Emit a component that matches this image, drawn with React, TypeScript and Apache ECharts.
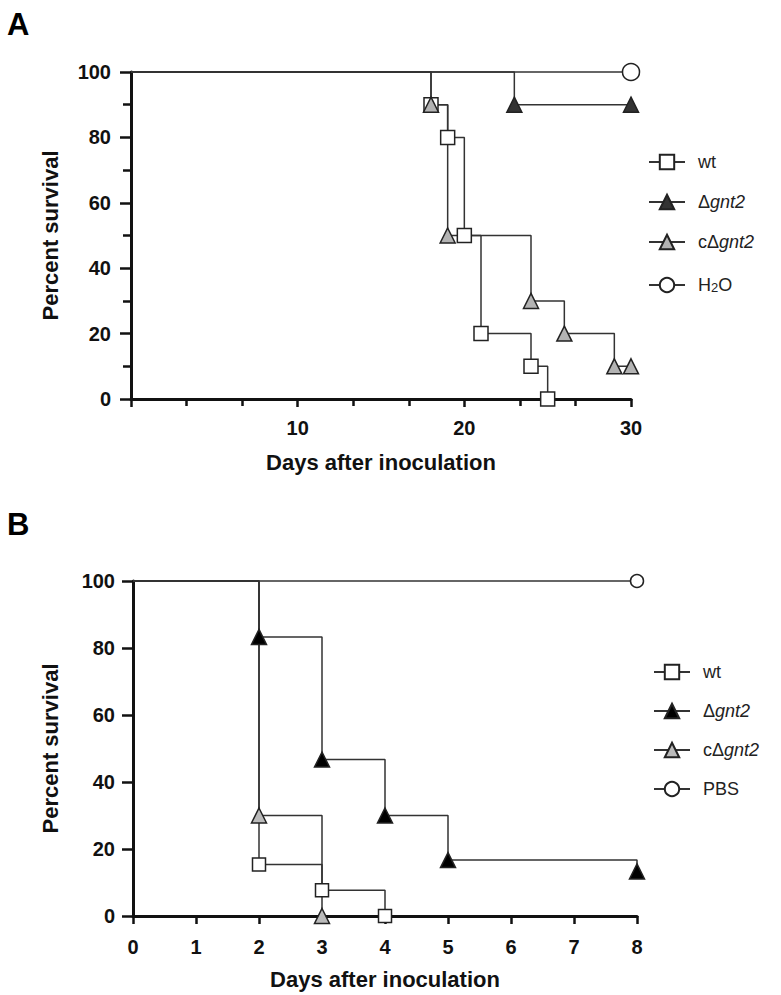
import React, { useEffect, useRef } from "react";
import * as echarts from "echarts";

// ---------- Panel A data ----------
const aWtDays = [0, 18, 19, 20, 21, 24, 25];
const aWtSurv = [100, 90, 80, 50, 20, 10, 0];
const aDgDays = [0, 23, 30];
const aDgSurv = [100, 90, 90];
const aCdDays = [0, 18, 19, 24, 26, 29, 30];
const aCdSurv = [100, 90, 50, 30, 20, 10, 10];
const aH2oDays = [0, 30];
const aH2oSurv = [100, 100];
const aXTicks = [10, 20, 30];
const yTicks = [0, 20, 40, 60, 80, 100];

// ---------- Panel B data ----------
const bWtDays = [0, 2, 3, 4];
const bWtSurv = [100, 15.4, 7.7, 0];
const bDgDays = [0, 2, 3, 4, 5, 8];
const bDgSurv = [100, 83.3, 46.7, 30, 16.7, 13.3];
const bCdDays = [0, 2, 3];
const bCdSurv = [100, 30, 0];
const bPbsDays = [0, 8];
const bPbsSurv = [100, 100];
const bXTicks = [0, 1, 2, 3, 4, 5, 6, 7, 8];

const legendA = ["wt", "Δgnt2", "cΔgnt2", "H2O"];
const legendB = ["wt", "Δgnt2", "cΔgnt2", "PBS"];

const FONT = "'Liberation Sans', Arial, Helvetica, sans-serif";
const LINE = "#333";

function stepData(days: number[], surv: number[]) {
  return days.map((d, i) =>
    i === 0 ? { value: [d, surv[i]], symbol: "none" } : { value: [d, surv[i]] }
  );
}

function mkSeries(
  name: string,
  days: number[],
  surv: number[],
  symbol: string,
  size: number,
  fill: string
) {
  return {
    type: "line",
    name,
    step: "end",
    data: stepData(days, surv),
    symbol,
    symbolSize: size,
    showSymbol: true,
    clip: false,
    lineStyle: { color: LINE, width: 1.5 },
    itemStyle: { color: fill, borderColor: "#222", borderWidth: 1.5, opacity: 1 },
    emphasis: { disabled: true },
  };
}

function legendFormatter(name: string) {
  if (name === "Δgnt2") return "Δ{i|gnt2}";
  if (name === "cΔgnt2") return "cΔ{i|gnt2}";
  if (name === "H2O") return "H{sub|2}O";
  return name;
}

function legendCfg(names: string[], left: number, top: number, gap: number) {
  return {
    orient: "vertical",
    left,
    top,
    data: names,
    itemWidth: 36,
    itemHeight: 18,
    itemGap: gap,
    selectedMode: false,
    formatter: legendFormatter,
    textStyle: {
      fontFamily: FONT,
      fontSize: 18,
      color: "#222",
      lineHeight: 18,
      padding: [0, 0, 0, 8],
      rich: {
        i: { fontFamily: FONT, fontSize: 18, fontStyle: "italic", color: "#222", lineHeight: 18 },
        sub: {
          fontFamily: FONT,
          fontSize: 13,
          color: "#222",
          lineHeight: 18,
          verticalAlign: "bottom",
          padding: [8, 0, 0, 0],
        },
      },
    },
  };
}

const axisLine = { show: true, onZero: false, lineStyle: { color: "#111", width: 3 } };
const labelStyle = { fontFamily: FONT, fontWeight: "bold", fontSize: 20, color: "#111" };
const nameStyle = { fontFamily: FONT, fontWeight: "bold", fontSize: 22, color: "#111" };

function optionA() {
  return {
    animation: false,
    backgroundColor: "#fff",
    grid: { left: 131, top: 72, right: 150, bottom: 98 },
    graphic: [
      {
        type: "text",
        left: 7,
        top: 9,
        style: { text: "A", fontFamily: FONT, fontWeight: "bold", fontSize: 31, fill: "#000" },
      },
    ],
    legend: legendCfg(legendA, 643, 148, 22),
    xAxis: {
      type: "value",
      min: 0,
      max: 30,
      interval: 10,
      axisLine,
      axisTick: { show: true, length: 8, lineStyle: { color: "#111", width: 2.5 } },
      minorTick: { show: true, splitNumber: 3, length: 7, lineStyle: { color: "#111", width: 2.5 } },
      splitLine: { show: false },
      axisLabel: {
        ...labelStyle,
        margin: 19,
        formatter: (v: number) => (aXTicks.includes(v) ? String(v) : ""),
      },
      name: "Days after inoculation",
      nameLocation: "middle",
      nameGap: 52,
      nameTextStyle: nameStyle,
    },
    yAxis: {
      type: "value",
      min: 0,
      max: 100,
      interval: 20,
      axisLine,
      axisTick: { show: true, length: 11, lineStyle: { color: "#111", width: 2.5 } },
      minorTick: { show: true, splitNumber: 2, length: 8, lineStyle: { color: "#111", width: 2.5 } },
      splitLine: { show: false },
      axisLabel: {
        ...labelStyle,
        margin: 20,
        formatter: (v: number) => (yTicks.includes(v) ? String(v) : ""),
      },
      name: "Percent survival",
      nameLocation: "middle",
      nameGap: 70,
      nameTextStyle: nameStyle,
    },
    series: [
      mkSeries("wt", aWtDays, aWtSurv, "rect", 14, "#fff"),
      mkSeries("Δgnt2", aDgDays, aDgSurv, "triangle", 15, "#333"),
      mkSeries("cΔgnt2", aCdDays, aCdSurv, "triangle", 15, "#b3b3b3"),
      mkSeries("H2O", aH2oDays, aH2oSurv, "circle", 17, "#fff"),
    ],
  };
}

function optionB() {
  return {
    animation: false,
    backgroundColor: "#fff",
    grid: { left: 133, top: 84, right: 144, bottom: 79 },
    graphic: [
      {
        type: "text",
        left: 7,
        top: 12,
        style: { text: "B", fontFamily: FONT, fontWeight: "bold", fontSize: 31, fill: "#000" },
      },
    ],
    legend: legendCfg(legendB, 648, 161, 21),
    xAxis: {
      type: "value",
      min: 0,
      max: 8,
      interval: 1,
      axisLine,
      axisTick: { show: true, length: 8, lineStyle: { color: "#111", width: 2.5 } },
      splitLine: { show: false },
      axisLabel: {
        ...labelStyle,
        margin: 21,
        formatter: (v: number) => (bXTicks.includes(v) ? String(v) : ""),
      },
      name: "Days after inoculation",
      nameLocation: "middle",
      nameGap: 52,
      nameTextStyle: nameStyle,
    },
    yAxis: {
      type: "value",
      min: 0,
      max: 100,
      interval: 20,
      axisLine,
      axisTick: { show: true, length: 11, lineStyle: { color: "#111", width: 2.5 } },
      splitLine: { show: false },
      axisLabel: {
        ...labelStyle,
        margin: 18,
        formatter: (v: number) => (yTicks.includes(v) ? String(v) : ""),
      },
      name: "Percent survival",
      nameLocation: "middle",
      nameGap: 72,
      nameTextStyle: nameStyle,
    },
    series: [
      mkSeries("wt", bWtDays, bWtSurv, "rect", 13, "#fff"),
      mkSeries("Δgnt2", bDgDays, bDgSurv, "triangle", 15, "#000"),
      mkSeries("cΔgnt2", bCdDays, bCdSurv, "triangle", 15, "#bbbbbb"),
      mkSeries("PBS", bPbsDays, bPbsSurv, "circle", 13, "#fff"),
    ],
  };
}

function Chart({ option, height }: { option: any; height: number }) {
  const ref = useRef<HTMLDivElement>(null);
  useEffect(() => {
    if (!ref.current) return;
    const chart = echarts.init(ref.current, undefined, { renderer: "svg" });
    chart.setOption(option);
    return () => chart.dispose();
  }, []);
  return <div ref={ref} style={{ width: 781, height }} />;
}

export default function App() {
  useEffect(() => {
    document.body.style.margin = "0";
  }, []);
  return (
    <div style={{ position: "absolute", left: 0, top: 0, width: 781, height: 995, background: "#fff" }}>
      <Chart option={optionA()} height={497} />
      <Chart option={optionB()} height={498} />
    </div>
  );
}
